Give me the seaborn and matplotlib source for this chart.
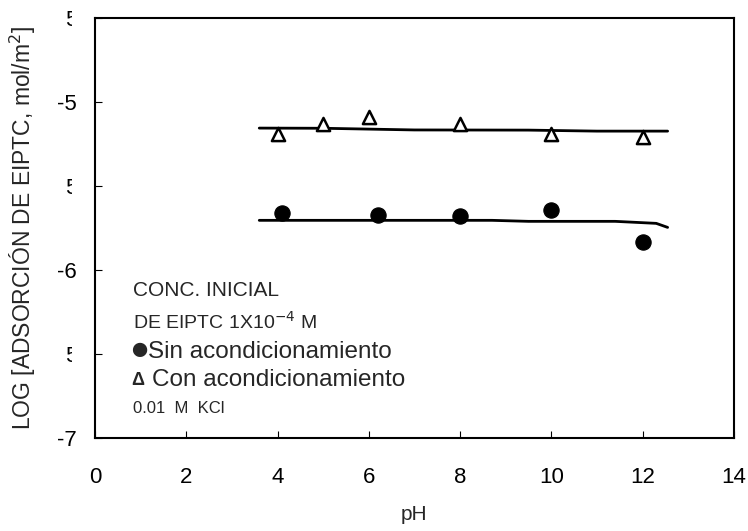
import matplotlib
matplotlib.use("Agg")
import matplotlib.pyplot as plt
import seaborn as sns
import pandas as pd
from matplotlib.transforms import Bbox, TransformedBbox

# measured points
ph_sin = [4.1, 6.2, 8.0, 10.0, 12.0]
log_sin = [-5.66, -5.67, -5.68, -5.645, -5.835]
ph_con = [4.0, 5.0, 6.0, 8.0, 10.0, 12.0]
log_con = [-5.19, -5.13, -5.09, -5.13, -5.19, -5.21]

# fitted curves
fit_ph_sin = [3.6, 5.0, 7.0, 8.7, 9.5, 11.4, 12.3, 12.55]
fit_log_sin = [-5.704, -5.704, -5.704, -5.704, -5.71, -5.71, -5.722, -5.746]
fit_ph_con = [3.6, 5.0, 7.0, 9.5, 11.0, 12.55]
fit_log_con = [-5.155, -5.156, -5.166, -5.167, -5.173, -5.173]

y_ticks = [-7, -6.5, -6, -5.5, -5, -4.5]
y_tick_labels = ["-7", "5", "-6", "5", "-5", "5"]

sns.set_theme(style="ticks")
plt.rcParams["font.family"] = ["Liberation Sans", "DejaVu Sans"]

fig = plt.figure(figsize=(7.48, 5.31), dpi=100)
ax = fig.add_axes([0.127, 0.175, 0.854, 0.791])

df_sin = pd.DataFrame({"pH": ph_sin, "log": log_sin})
df_con = pd.DataFrame({"pH": ph_con, "log": log_con})

sns.lineplot(x=fit_ph_sin, y=fit_log_sin, color="black", lw=2, sort=False,
             estimator=None, ax=ax)
sns.lineplot(x=fit_ph_con, y=fit_log_con, color="black", lw=2, sort=False,
             estimator=None, ax=ax)
sns.scatterplot(data=df_sin, x="pH", y="log", marker="o", s=120, color="black",
                edgecolor="black", ax=ax, zorder=3)
sns.scatterplot(data=df_con, x="pH", y="log", marker="^", s=90, facecolor="white",
                edgecolor="black", linewidth=1.8, ax=ax, zorder=3)

ax.set_xlim(0, 14)
ax.set_ylim(-7, -4.5)
ax.set_xticks(range(0, 15, 2))
ax.set_yticks(y_ticks)
ax.set_yticklabels(y_tick_labels)
ax.tick_params(direction="in", length=5, width=0.8, labelsize=16, colors="black")
ax.tick_params(axis="y", pad=13)
ax.tick_params(axis="x", pad=21)
for s in ax.spines.values():
    s.set_visible(True)
    s.set_linewidth(1.5)
    s.set_color("black")

# half-hidden tick labels at the half steps, like the original
clip = TransformedBbox(Bbox([[0.087, 0.0], [0.096, 1.0]]), fig.transFigure)
for lab in ax.get_yticklabels()[1::2]:
    lab.set_clip_box(clip)
    lab.set_clip_on(True)

ax.set_xlabel("pH", fontsize=15, labelpad=12)
ax.set_ylabel("LOG [ADSORCIÓN DE EIPTC, mol/m$^2$]", fontsize=16.5, labelpad=14)

tx = 0.059
ax.text(tx, 0.352, "CONC. INICIAL", transform=ax.transAxes, fontsize=15, va="center")
ax.text(tx, 0.276, "DE EIPTC 1X10$^{-4}$ M", transform=ax.transAxes, fontsize=14,
        va="center")
ax.text(tx - 0.006, 0.208, "●", transform=ax.transAxes, fontsize=24, va="center")
ax.text(0.083, 0.205, "Sin acondicionamiento", transform=ax.transAxes,
        fontsize=17.5, va="center")
ax.text(tx - 0.002, 0.136, "Δ", transform=ax.transAxes, fontsize=13, va="center",
        fontweight="bold")
ax.text(0.089, 0.138, "Con acondicionamiento", transform=ax.transAxes,
        fontsize=17.5, va="center")
ax.text(tx, 0.071, "0.01  M  KCl", transform=ax.transAxes, fontsize=12, va="center")

fig.savefig("out.png", dpi=100)
